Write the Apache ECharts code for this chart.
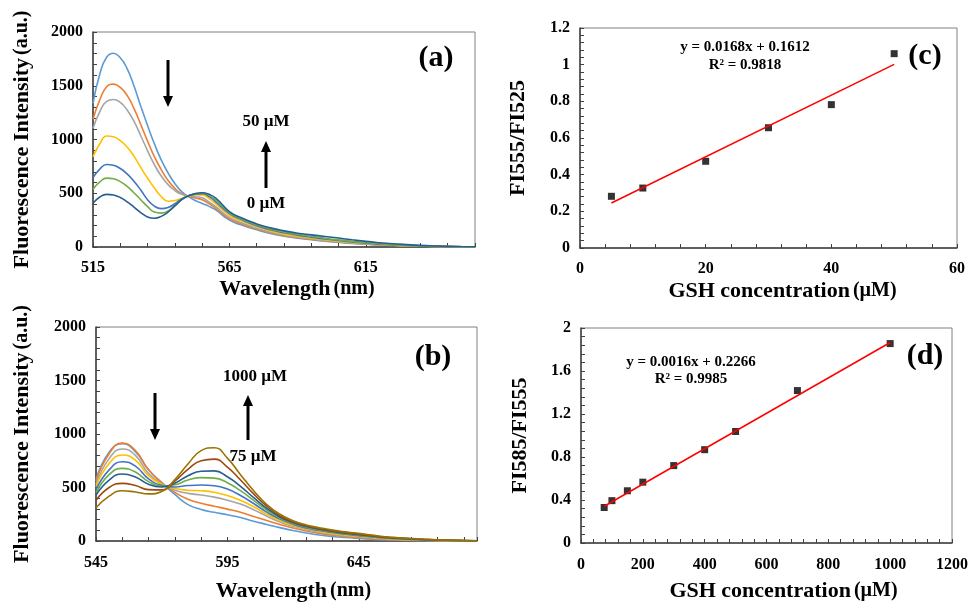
<!DOCTYPE html>
<html>
<head>
<meta charset="utf-8">
<script src="https://cdn.jsdelivr.net/npm/echarts@6.0.0/dist/echarts.min.js"></script>
<style>
  html, body { margin: 0; padding: 0; background: #fff; }
  #chart { width: 971px; height: 603px; }
</style>
</head>
<body>
<div id="chart"></div>
<script>
// panel (a): spectra, 0-50 uM (2.5 nm steps over the peaks, 5 nm in the tail)
const wlA = [515, 517.5, 520, 522.5, 525, 527.5, 530, 532.5, 535, 537.5, 540, 542.5, 545, 547.5, 550,
  552.5, 555, 557.5, 560, 565, 570, 575, 580, 585, 590, 595, 600, 605, 610, 615, 620, 625, 630,
  635, 640, 645, 650, 655];
const a0 = [1337, 1610, 1765, 1802, 1760, 1660, 1500, 1310, 1130, 960, 810, 690, 590, 515, 468,
  432, 405, 378, 345, 250, 200, 160, 125, 100, 82, 68, 55, 44, 34, 26, 19, 14, 10, 7, 5, 3, 2, 1];
const a5 = [1188, 1370, 1490, 1515, 1485, 1410, 1290, 1140, 985, 840, 720, 620, 545, 495, 472,
  455, 440, 405, 360, 262, 210, 168, 132, 106, 87, 72, 58, 46, 36, 28, 20, 15, 11, 8, 5, 3, 2, 1];
const a10 = [1104, 1260, 1355, 1372, 1345, 1275, 1170, 1035, 895, 765, 660, 580, 525, 490, 476,
  468, 458, 420, 375, 275, 220, 176, 139, 112, 92, 76, 61, 49, 38, 29, 21, 16, 11, 8, 6, 4, 2, 1];
const a20 = [840, 960, 1033, 1025, 990, 930, 845, 740, 640, 548, 470, 426, 432, 452, 476,
  485, 485, 450, 400, 295, 236, 188, 150, 122, 100, 83, 67, 54, 42, 32, 24, 18, 13, 9, 6, 4, 2, 1];
const a30 = [645, 725, 768, 760, 730, 680, 612, 530, 440, 380, 357, 368, 402, 448, 476,
  492, 495, 470, 420, 310, 248, 198, 160, 132, 110, 92, 75, 60, 47, 36, 27, 20, 14, 10, 7, 4, 3, 1];
const a40 = [537, 605, 641, 635, 608, 565, 505, 440, 375, 325, 315, 335, 385, 440, 474,
  495, 500, 480, 435, 320, 256, 206, 168, 140, 118, 100, 82, 66, 52, 40, 30, 22, 16, 11, 7, 5, 3, 1];
const a50 = [406, 465, 490, 483, 460, 420, 372, 320, 280, 268, 285, 325, 382, 440, 476,
  498, 505, 490, 455, 330, 265, 215, 178, 150, 128, 113, 98, 83, 67, 52, 40, 30, 22, 15, 10, 6, 4, 2];

// panel (b): spectra, 75-1000 uM
const wlB = [545, 550, 555, 560, 565, 570, 575, 580, 585, 590, 595, 600, 605, 610, 615,
  620, 625, 630, 635, 640, 645, 650, 655, 660, 665, 670, 675, 680, 685, 690];
const b75 = [575, 830, 910, 835, 665, 545, 435, 340, 295, 268, 245, 220, 185, 155, 125, 98, 75, 56, 42, 32, 24, 17, 11, 7, 4, 3, 2, 1, 1, 0];
const b100 = [560, 815, 915, 845, 665, 545, 455, 390, 352, 325, 298, 268, 230, 192, 155, 122, 94, 71, 53, 40, 30, 22, 15, 10, 7, 5, 3, 2, 1, 0];
const b150 = [530, 770, 860, 800, 630, 535, 475, 445, 430, 410, 380, 345, 292, 232, 177, 137, 106, 82, 63, 49, 38, 28, 20, 14, 10, 7, 4, 3, 2, 1];
const b200 = [510, 725, 804, 755, 610, 530, 490, 475, 470, 455, 425, 380, 320, 250, 190, 147, 114, 90, 71, 56, 44, 33, 24, 17, 12, 8, 5, 3, 2, 1];
const b300 = [480, 665, 741, 700, 580, 520, 505, 518, 523, 516, 485, 425, 350, 270, 205, 157, 122, 98, 79, 63, 50, 38, 28, 20, 14, 10, 7, 4, 3, 1];
const b400 = [450, 620, 679, 645, 555, 512, 525, 570, 592, 588, 545, 470, 380, 290, 215, 165, 129, 104, 84, 68, 54, 42, 30, 22, 16, 11, 8, 5, 3, 2];
const b500 = [430, 570, 626, 598, 530, 505, 540, 610, 652, 655, 600, 510, 405, 305, 225, 172, 135, 110, 90, 73, 59, 46, 33, 25, 19, 13, 9, 6, 4, 2];
const b700 = [380, 500, 539, 518, 480, 478, 560, 670, 750, 765, 690, 570, 440, 325, 235, 180, 142, 117, 96, 79, 65, 50, 36, 28, 21, 15, 10, 7, 5, 3];
const b1000 = [310, 420, 470, 458, 440, 462, 575, 720, 845, 872, 775, 620, 470, 340, 250, 190, 150, 124, 102, 85, 71, 55, 40, 31, 24, 17, 11, 8, 5, 3];

// panel (c): FI555/FI525 vs GSH
const concC = [5, 10, 20, 30, 40, 50];
const ratioC = [0.282, 0.327, 0.473, 0.656, 0.782, 1.06];
const fitCx = [5, 50];
const fitCy = [0.2452, 1.0012];

// panel (d): FI585/FI555 vs GSH
const concD = [75, 100, 150, 200, 300, 400, 500, 700, 1000];
const ratioD = [0.33, 0.394, 0.486, 0.566, 0.72, 0.868, 1.037, 1.418, 1.855];
const fitDx = [75, 1000];
const fitDy = [0.342, 1.865];

const seriesA = [a0, a5, a10, a20, a30, a40, a50];
const seriesB = [b75, b100, b150, b200, b300, b400, b500, b700, b1000];
const colorsA = ['#5B9BD5', '#ED7D31', '#A5A5A5', '#FFC000', '#4472C4', '#70AD47', '#255E91'];
const colorsB = ['#5B9BD5', '#ED7D31', '#A5A5A5', '#FFC000', '#4472C4', '#70AD47', '#255E91', '#9E480E', '#997300'];

const FONT = "'Liberation Serif', 'Times New Roman', serif";
const AXIS_COLOR = '#404040';

function zip(xs, ys) {
  return xs.map((x, i) => [x, ys[i]]);
}

function onStep(v, base, step) {
  const r = (v - base) / step;
  return Math.abs(r - Math.round(r)) < 1e-6;
}

// value axis with evenly spaced ticks, labels only every labelStep
function axis(gridIndex, min, max, tick, labelStep, name, nameGap, padding, labelMargin) {
  return {
    type: 'value',
    gridIndex,
    min,
    max,
    interval: tick,
    name,
    nameLocation: 'middle',
    nameGap,
    nameTextStyle: {
      padding: padding || 0,
      rich: {
        m: { fontFamily: FONT, fontWeight: 'bold', fontSize: 22, color: '#000' },
        u: { fontFamily: FONT, fontWeight: 'bold', fontSize: 20, color: '#000', padding: [0, 0, 0, 3] }
      }
    },
    axisLine: { show: true, onZero: false, lineStyle: { color: AXIS_COLOR, width: 1.5 } },
    axisTick: { show: true, inside: true, length: 4, lineStyle: { color: AXIS_COLOR } },
    splitLine: { show: false },
    axisLabel: {
      fontFamily: FONT,
      fontWeight: 'bold',
      fontSize: 16,
      color: '#000',
      margin: labelMargin || 10,
      formatter: v => (onStep(v, min, labelStep) ? String(+v.toFixed(2)) : '')
    }
  };
}

const grids = [
  { left: 93, top: 32, width: 382, height: 215 },
  { left: 96, top: 327, width: 381, height: 214 },
  { left: 580, top: 28, width: 377, height: 220 },
  { left: 581, top: 328, width: 373, height: 216 }
].map(g => Object.assign(g, { show: true, borderColor: '#808080', borderWidth: 1, backgroundColor: 'transparent' }));

const series = [];
seriesA.forEach((vals, i) => {
  series.push({
    type: 'line', xAxisIndex: 0, yAxisIndex: 0, smooth: true, showSymbol: false,
    data: zip(wlA, vals), lineStyle: { color: colorsA[i], width: 1.6 }, z: 10 + i
  });
});
seriesB.forEach((vals, i) => {
  series.push({
    type: 'line', xAxisIndex: 1, yAxisIndex: 1, smooth: true, showSymbol: false,
    data: zip(wlB, vals), lineStyle: { color: colorsB[i], width: 1.6 }, z: 10 + i
  });
});
[[concC, ratioC, fitCx, fitCy, 2], [concD, ratioD, fitDx, fitDy, 3]].forEach(([xs, ys, fx, fy, k]) => {
  series.push({
    type: 'scatter', xAxisIndex: k, yAxisIndex: k, symbol: 'rect', symbolSize: 7,
    itemStyle: { color: '#000' }, data: zip(xs, ys), z: 10
  });
  series.push({
    type: 'line', xAxisIndex: k, yAxisIndex: k, showSymbol: false,
    data: zip(fx, fy), lineStyle: { color: '#FF0000', width: 1.5 }, z: 11
  });
});

function label(text, x, y, size) {
  return {
    type: 'text', x, y,
    style: { text, font: `bold ${size}px ${FONT}`, fill: '#000', align: 'center', verticalAlign: 'middle' }
  };
}

function arrow(x, y1, y2) {
  // y1 = tail, y2 = tip
  const dir = y2 > y1 ? 1 : -1;
  const headLen = 11;
  return {
    type: 'group',
    children: [
      { type: 'line', shape: { x1: x, y1, x2: x, y2: y2 - dir * headLen }, style: { stroke: '#000', lineWidth: 3 } },
      { type: 'polygon', shape: { points: [[x - 5, y2 - dir * headLen], [x + 5, y2 - dir * headLen], [x, y2]] }, style: { fill: '#000' } }
    ]
  };
}

const WL = '{m|Wavelength}{u|(nm)}';
const GSH = '{m|GSH concentration}{u|(µM)}';
const FI = '{m|Fluorescence Intensity}{u|(a.u.)}';

const option = {
  backgroundColor: '#fff',
  animation: false,
  grid: grids,
  xAxis: [
    axis(0, 515, 655, 10, 50, WL, 31, [0, 0, 0, 26], 13),
    axis(1, 545, 690, 10, 50, WL, 39, [0, 0, 0, 14], 14),
    axis(2, 0, 60, 4, 20, GSH, 32, [0, 0, 0, 28], 13),
    axis(3, 0, 1200, 40, 200, GSH, 37, [0, 0, 0, 34], 14)
  ],
  yAxis: [
    axis(0, 0, 2000, 100, 500, FI, 60),
    axis(1, 0, 2000, 100, 500, FI, 63, [0, 0, 0, 0]),
    axis(2, 0, 1.2, 0.04, 0.2, '{m|FI555/FI525}', 51),
    axis(3, 0, 2, 0.08, 0.4, '{m|FI585/FI555}', 50)
  ],
  series,
  graphic: [
    label('(a)', 436, 58, 30),
    label('(b)', 433, 357, 30),
    label('(c)', 925, 56, 30),
    label('(d)', 925, 356, 30),
    arrow(168, 60, 107),
    arrow(266, 188, 141),
    label('50 µM', 266, 122, 17),
    label('0 µM', 266, 204, 17),
    arrow(155, 393, 440),
    arrow(248, 440, 395),
    label('1000 µM', 255, 377, 17),
    label('75 µM', 253, 457, 17),
    label('y = 0.0168x + 0.1612', 745, 47, 15),
    label('R² = 0.9818', 745, 65, 15),
    label('y = 0.0016x + 0.2266', 691, 362, 15),
    label('R² = 0.9985', 691, 379, 15)
  ]
};

echarts.init(document.getElementById('chart'), null, { renderer: 'canvas' }).setOption(option);
</script>
</body>
</html>
